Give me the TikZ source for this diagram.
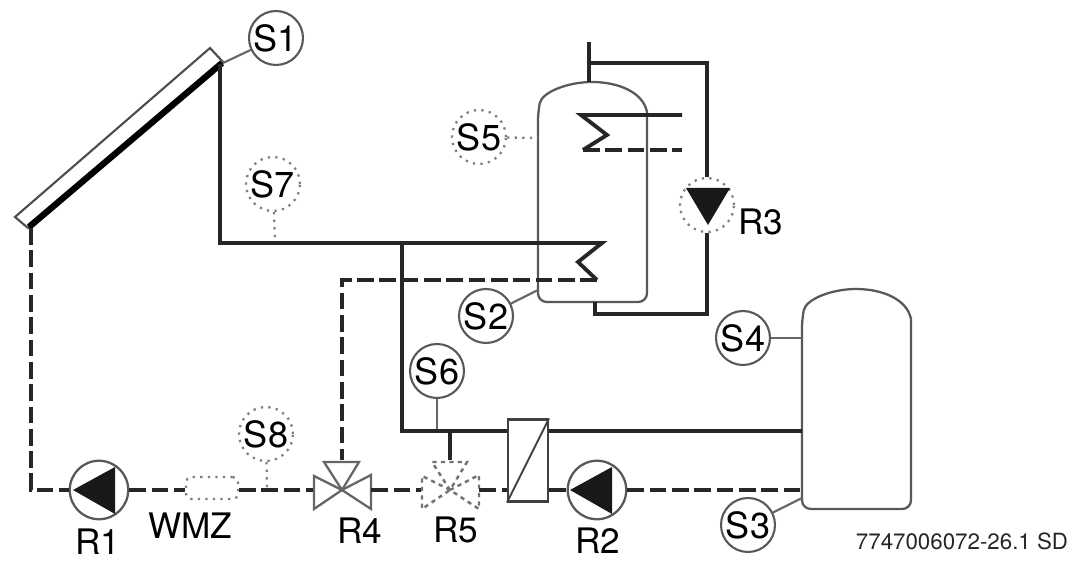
\documentclass[tikz,border=0pt]{standalone}
\usepackage{fontspec}
\setmainfont{TeX Gyre Heros}
\tikzset{
    pipe/.style = {line width=2.2pt, color=black!85},
    dashpipe/.style = {pipe, dash pattern=on 9.5pt off 3.2pt},
    thinline/.style = {line width=1.2pt, color=black!60},
    dotline/.style = {line width=1.3pt, color=black!50, dash pattern=on 1.3pt off 3pt},
    sensor/.style = {circle, draw=black!65, line width=1.2pt, fill=white, inner sep=0pt, minimum size=1.08cm, font=\fontsize{20.5}{20.5}\selectfont},
    dotsensor/.style = {sensor, draw=black!50, line width=1.3pt, dash pattern=on 1.3pt off 3pt},
    pump/.style = {circle, draw=black!65, line width=1.3pt, fill=white, inner sep=0pt, minimum size=1.17cm},
    label/.style = {inner sep=0pt, font=\fontsize{20}{20}\selectfont},
    valvebox/.style = {inner sep=0pt, minimum width=1.16cm, minimum height=0.6cm},
    valve/.style = {line width=1.3pt, black!60},
    dotvalve/.style = {line width=1.4pt, black!55, dash pattern=on 2.4pt off 2.4pt}
}
\begin{document}
\begin{tikzpicture}[x=0.02cm, y=-0.02cm]
    \useasboundingbox (0,0) rectangle (1073,567);

    % Pipe corners
    \coordinate (collOut) at (220,64);
    \coordinate (collIn) at (31,228);
    \coordinate (flowBend) at (220,243);
    \coordinate (flowTee) at (402,243);
    \coordinate (coilTop) at (602,243);
    \coordinate (coilMid) at (578,262);
    \coordinate (coilEnd) at (597,280);
    \coordinate (backBend) at (342,280);
    \coordinate (backEnd) at (342,460);
    \coordinate (lowBend) at (402,431);
    \coordinate (bufTop) at (802,431);
    \coordinate (bufLow) at (802,490);
    \coordinate (startBend) at (31,490);
    \coordinate (tapS6) at (437,431);
    \coordinate (tapR5) at (450,431);
    \coordinate (endR5) at (450,460);
    \coordinate (tapS7) at (275,243);
    \coordinate (tapS8) at (267,490);
    \coordinate (hotEnd) at (589,42);
    \coordinate (hotTop) at (589,63);
    \coordinate (hotTank) at (589,82);
    \coordinate (loopTop) at (707,63);
    \coordinate (loopLow) at (707,314);
    \coordinate (loopLeft) at (595,314);
    \coordinate (loopTank) at (595,302);

    % Draw the collector
    \draw[line width=1.2pt, black!70] (210,48) -- (223,62) -- (28,228) -- (15,217) -- cycle;
    \draw[line width=3.6pt, black] (222,63) -- (29,227);

    % Draw the two tanks
    \foreach \left/\top/\low in {538/82/302, 802/289/509}{
        \draw[line width=1.3pt, black!65, rounded corners=5pt]
            (\left+54,\low) -- (\left,\low) -- (\left,\top+30)
            [sharp corners] .. controls (\left+4,\top+10) and (\left+30,\top) .. (\left+54,\top)
            .. controls (\left+80,\top) and (\left+105,\top+10) .. (\left+109,\top+30)
            [rounded corners=5pt] -- (\left+109,\low) -- cycle;
    }

    % Draw the sensors
    \node[sensor] (S1) at (276,38) {S1};
    \node[sensor] (S2) at (486,316) {S2};
    \node[sensor] (S3) at (748,525) {S3};
    \node[sensor] (S4) at (743,338) {S4};
    \node[dotsensor] (S5) at (479,137) {S5};
    \node[sensor] (S6) at (437,371) {S6};
    \node[dotsensor] (S7) at (273,184) {S7};
    \node[dotsensor] (S8) at (266,434) {S8};

    % Sensor leads
    \coordinate (leadS1) at (223,63);
    \coordinate (leadS2) at (538,290);
    \coordinate (leadS3) at (802,498);
    \coordinate (leadS4) at (802,338);
    \coordinate (leadS5) at (538,138);
    \draw[thinline] (S1) -- (leadS1);
    \draw[thinline] (S2) -- (leadS2);
    \draw[thinline] (S3) -- (leadS3);
    \draw[thinline] (S4) -- (leadS4);
    \draw[thinline] (S6) -- (tapS6);
    \draw[dotline] (S5) -- (leadS5);
    \draw[dotline] (S7) -- (tapS7);
    \draw[dotline] (S8) -- (tapS8);

    % Pumps, meter, valves and exchanger
    \node[pump] (R1) at (99,490) {};
    \node[pump] (R2) at (597,490) {};
    \node[dotsensor] (R3) at (707,205) {};
    \node[valvebox] (R4) at (342,490) {};
    \node[valvebox] (R5) at (450,490) {};
    \node[draw=black!50, line width=1.3pt, dash pattern=on 1.3pt off 3pt, rounded corners=3pt, inner sep=0pt, minimum width=1.04cm, minimum height=0.44cm] (WMZ) at (212,488) {};
    \node[draw=black!75, line width=1.2pt, inner sep=0pt, minimum width=0.8cm, minimum height=1.64cm] (HX) at (528,460.5) {};
    \draw[line width=1.1pt, black!75] (HX.south west) -- (HX.north east);

    \fill[black!90] (73,490) -- (115,467) -- (115,514) -- cycle;
    \fill[black!90] (570,490) -- (612,467) -- (612,514) -- cycle;
    \fill[black!90] (686,188) -- (730,188) -- (708,225) -- cycle;

    % Valve triangles
    \foreach \cx/\look in {342/valve, 450/dotvalve}{
        \begin{scope}[shift={(\cx,490)}]
            \draw[\look] (0,0) -- (-28,-14) -- (-28,19) -- cycle;
            \draw[\look] (0,0) -- (29,-15) -- (29,19) -- cycle;
            \draw[\look] (0,0) -- (-18,-28) -- (17,-28) -- cycle;
        \end{scope}
    }

    % Solid pipes
    \draw[pipe] (collOut) -- (flowBend) -- (coilTop) -- (coilMid) -- (coilEnd);
    \draw[pipe] (flowTee) -- (lowBend) -- (HX.west |- lowBend);
    \draw[pipe] (HX.east |- bufTop) -- (bufTop);
    \draw[pipe] (tapR5) -- (endR5);
    \draw[pipe] (hotEnd) -- (hotTank);
    \draw[pipe] (hotTop) -- (loopTop) -- (R3.north);
    \draw[pipe] (R3.south) -- (loopLow) -- (loopLeft) -- (loopTank);
    \draw[pipe] (682,115) -- (581,115) -- (607,135) -- (583,150);

    % Dashed pipes
    \draw[dashpipe] (collIn) -- (startBend) -- (R1);
    \draw[dashpipe] (R1) -- (WMZ.west |- R1);
    \draw[dashpipe] (WMZ.east |- R4) -- (R4);
    \draw[dashpipe] (R4) -- (R5);
    \draw[dashpipe] (R5) -- (HX.west |- R5);
    \draw[dashpipe] (HX.east |- R2) -- (R2);
    \draw[dashpipe] (R2) -- (bufLow);
    \draw[dashpipe] (coilEnd) -- (backBend) -- (backEnd);
    \draw[dashpipe] (583,150) -- (682,150);

    % Labels
    \node[label] (R1text) at (98,542) {R1};
    \node[label] (WMZtext) at (190,526) {WMZ};
    \node[label] (R4text) at (360,531) {R4};
    \node[label] (R5text) at (456,530) {R5};
    \node[label] (R2text) at (598,541) {R2};
    \node[label] (R3text) at (761,222) {R3};
    \node[inner sep=0pt, font=\fontsize{12.7}{12.7}\selectfont, black!85] (code) at (962,541) {7747006072-26.1 SD};
\end{tikzpicture}
\end{document}
